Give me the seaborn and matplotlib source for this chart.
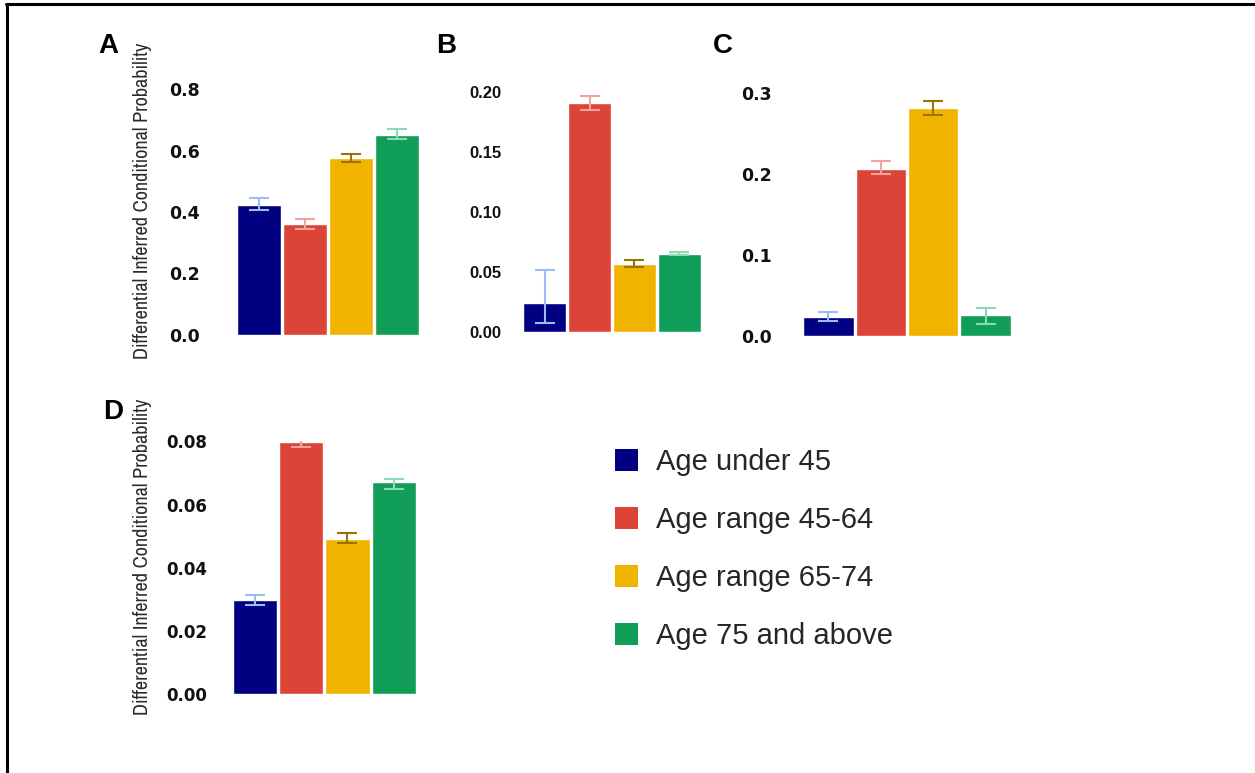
import matplotlib
matplotlib.use("Agg")
import matplotlib.pyplot as plt
from matplotlib.patches import Patch
from matplotlib.lines import Line2D
from matplotlib import font_manager
import seaborn as sns
import pandas as pd

# data
age_groups = ["Age under 45", "Age range 45-64", "Age range 65-74", "Age 75 and above"]
bar_colors = ["#000080", "#db4437", "#f0b400", "#0f9d58"]
err_colors = ["#9bbcf2", "#f2a3a0", "#9a7400", "#8fd9b2"]

a_vals = [0.424, 0.360, 0.576, 0.652]
a_lo = [0.405, 0.345, 0.563, 0.637]
a_hi = [0.446, 0.376, 0.591, 0.670]

b_vals = [0.0243, 0.1906, 0.057, 0.065]
b_lo = [0.008, 0.185, 0.054, 0.0645]
b_hi = [0.052, 0.196, 0.0598, 0.0666]

c_vals = [0.024, 0.206, 0.281, 0.026]
c_lo = [0.019, 0.200, 0.272, 0.015]
c_hi = [0.029, 0.216, 0.290, 0.035]

d_vals = [0.0297, 0.0797, 0.0491, 0.0671]
d_lo = [0.0283, 0.0781, 0.0477, 0.0651]
d_hi = [0.0313, 0.0814, 0.0510, 0.0681]

ylabel = "Differential Inferred Conditional Probability"

W, H = 1255, 773

sns.set_theme(style="white")
plt.rcParams["font.family"] = ["DejaVu Sans"]

names = sorted({f.name for f in font_manager.fontManager.ttflist})
narrow_opts = [n for n in names if "Narrow" in n or "Condensed" in n]
if narrow_opts:
    narrow = narrow_opts[0]
elif "Roboto" in names:
    narrow = "Roboto"
else:
    narrow = "DejaVu Sans"
arial = "Liberation Sans" if "Liberation Sans" in names else "DejaVu Sans"

fig = plt.figure(figsize=(W / 100, H / 100), dpi=100)


def px_axes(left, top, right, bottom):
    return fig.add_axes([left / W, 1 - bottom / H, (right - left) / W, (bottom - top) / H])


def panel(ax, vals, lo, hi, ymax, ticks, fmt, pad, tick_font, tick_size):
    df = pd.DataFrame({"group": age_groups, "value": vals})
    sns.barplot(data=df, x="group", y="value", hue="group", palette=bar_colors,
                width=0.96, dodge=False, legend=False, ax=ax, saturation=1,
                edgecolor="white", linewidth=1)
    for i, (v, l, h) in enumerate(zip(vals, lo, hi)):
        ax.errorbar(i, v, yerr=[[v - l], [h - v]], color=err_colors[i],
                    capsize=7.5, elinewidth=1.5, capthick=1.5, fmt="none")
    ax.set_xlim(-0.5, 3.5)
    ax.set_ylim(0, ymax)
    ax.set_yticks(ticks)
    ax.set_yticklabels([fmt.format(t) for t in ticks], fontweight="bold",
                       fontsize=tick_size, family=tick_font, color="#111111")
    ax.set_xticks([])
    ax.set_xlabel("")
    ax.set_ylabel("")
    ax.tick_params(axis="y", length=0, pad=pad)
    sns.despine(ax=ax, left=True, bottom=True)
    ax.patch.set_alpha(0)


ax_a = px_axes(235.7, 89.5, 419.7, 334.5)
panel(ax_a, a_vals, a_lo, a_hi, 0.8, [0, 0.2, 0.4, 0.6, 0.8], "{:.1f}", 25.7, "DejaVu Sans", 12.5)

ax_b = px_axes(522.4, 91.5, 701.6, 332.5)
panel(ax_b, b_vals, b_lo, b_hi, 0.2, [0, 0.05, 0.10, 0.15, 0.20], "{:.2f}", 14.9, arial, 12)

ax_c = px_axes(802.3, 92.7, 1011.7, 336)
panel(ax_c, c_vals, c_lo, c_hi, 0.3, [0, 0.1, 0.2, 0.3], "{:.1f}", 22, "DejaVu Sans", 12.5)

ax_d = px_axes(231.8, 441.5, 416.9, 694)
panel(ax_d, d_vals, d_lo, d_hi, 0.08, [0, 0.02, 0.04, 0.06, 0.08], "{:.2f}", 18, "DejaVu Sans", 12)

# y axis titles, sized so the text spans about 317 px like the reference
renderer = fig.canvas.get_renderer()
for yc in (201, 557):
    t = fig.text(143 / W, 1 - yc / H, ylabel, rotation=90, ha="center", va="center",
                 fontsize=12, family=narrow, color="#2a2a2a")
    ext = t.get_window_extent(renderer=renderer)
    t.set_fontsize(12 * 317 / ext.height)

# panel letters
for letter, x, y in [("A", 108, 46), ("B", 446, 46), ("C", 723, 46), ("D", 113, 412)]:
    fig.text(x / W, 1 - y / H, letter, ha="center", va="center", fontsize=20,
             fontweight="bold", family=arial, color="black")

# legend
handles = [Patch(facecolor=c, edgecolor="none") for c in bar_colors]
fig.legend(handles, age_groups, loc="upper left", bbox_to_anchor=(615 / W, 1 - 448 / H),
           frameon=False, borderpad=0, borderaxespad=0, handlelength=0.8, handleheight=0.8,
           handletextpad=0.6, labelspacing=1.03, prop={"family": arial, "size": 21})

# frame lines (top and left only)
fig.add_artist(Line2D([6 / W, 1], [1 - 4 / H, 1 - 4 / H], color="black", lw=2.2,
                      transform=fig.transFigure))
fig.add_artist(Line2D([7 / W, 7 / W], [0, 1 - 4 / H], color="black", lw=2.2,
                      transform=fig.transFigure))

fig.savefig("out.png", dpi=100, facecolor="white")
